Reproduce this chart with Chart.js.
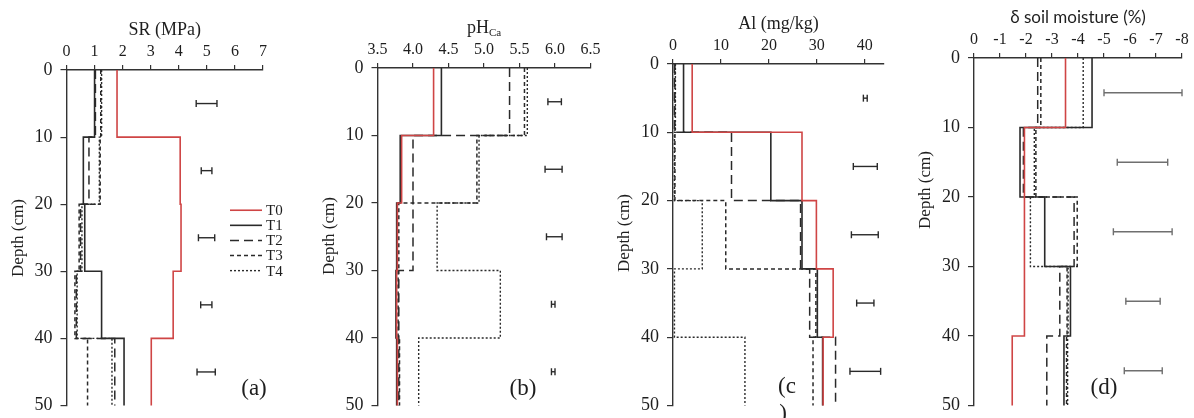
<!DOCTYPE html>
<html><head><meta charset="utf-8">
<script src="https://cdn.jsdelivr.net/npm/chart.js@4.4.1/dist/chart.umd.min.js"></script>
<style>
html,body{margin:0;padding:0;background:#fff;}
#wrap{position:relative;width:1194px;height:418px;overflow:hidden;background:#fff;}
#wrap canvas{position:absolute;left:0;top:0;}
</style></head><body>
<div id="wrap">
<canvas id="ca" width="1194" height="450"></canvas>
<canvas id="cb" width="1194" height="450"></canvas>
<canvas id="cc" width="1194" height="450"></canvas>
<canvas id="cd" width="1194" height="450"></canvas>
</div>
<script>
// ---------- data ----------
const layerTops = [0, 10, 20, 30, 40];
const layerBottoms = [10, 20, 30, 40, 50];
const depthTicks = [0, 10, 20, 30, 40, 50];
const seriesNames = ['T0', 'T1', 'T2', 'T3', 'T4'];
const errDepths = [5, 15, 25, 35, 45];

// (a) SR (MPa)
const srTicks = [0, 1, 2, 3, 4, 5, 6, 7];
const srT0 = [1.8, 4.05, 4.08, 3.8, 3.02];
const srT1 = [1.0, 0.6, 0.65, 1.25, 2.05];
const srT2 = [1.03, 0.8, 0.5, 0.35, 1.72];
const srT3 = [1.22, 1.2, 0.45, 0.3, 0.75];
const srT4 = [1.25, 1.17, 0.55, 0.38, 1.62];
const srErrLo = [4.62, 4.8, 4.7, 4.78, 4.65];
const srErrHi = [5.36, 5.18, 5.28, 5.18, 5.3];

// (b) pHCa
const phTicks = [3.5, 4.0, 4.5, 5.0, 5.5, 6.0, 6.5];
const phT0 = [4.29, 3.84, 3.78, 3.77, 3.78];
const phT1 = [4.40, 3.82, 3.77, 3.76, 3.77];
const phT2 = [5.36, 4.0, 4.0, 3.8, 3.8];
const phT3 = [5.57, 4.9, 3.8, 3.79, 3.81];
const phT4 = [5.61, 4.93, 4.34, 5.23, 4.08];
const phErrLo = [5.9, 5.86, 5.88, 5.95, 5.95];
const phErrHi = [6.09, 6.1, 6.1, 6.0, 6.0];

// (c) Al (mg/kg)
const alTicks = [0, 10, 20, 30, 40];
const alT0 = [4.0, 26.9, 29.9, 33.4, 31.3];
const alT1 = [2.2, 20.4, 26.9, 30.1, 31.2];
const alT2 = [0.3, 12.2, 26.6, 28.5, 33.9];
const alT3 = [0.4, 0.4, 11.0, 29.8, 29.2];
const alT4 = [0.5, 0.3, 6.1, 0.3, 15.0];
const alErrLo = [39.7, 37.6, 37.2, 38.3, 36.9];
const alErrHi = [40.5, 42.6, 42.8, 41.9, 43.3];

// (d) delta soil moisture (%)
const smTicks = [0, -1, -2, -3, -4, -5, -6, -7, -8];
const smT0 = [-3.52, -1.94, -1.94, -1.94, -1.47];
const smT1 = [-4.54, -1.77, -2.72, -3.71, -3.46];
const smT2 = [-2.45, -1.9, -3.85, -3.3, -2.8];
const smT3 = [-2.57, -2.38, -3.97, -3.58, -3.56];
const smT4 = [-4.2, -2.32, -2.17, -3.62, -3.6];
const smErrLo = [-5.0, -5.51, -5.36, -5.84, -5.78];
const smErrHi = [-8.0, -7.45, -7.62, -7.16, -7.24];

// ---------- styles ----------
const SERIF = '"Liberation Serif", "Times New Roman", serif';
const INK = '#1e1e1e';
const RED = '#cf4545';
const seriesStyle = [
  {color: RED, dash: [], width: 1.6},
  {color: '#2a2a2a', dash: [], width: 1.6},
  {color: '#2a2a2a', dash: [9, 5], width: 1.5},
  {color: '#2a2a2a', dash: [4, 3], width: 1.5},
  {color: '#2a2a2a', dash: [2, 2], width: 1.4}
];
const CANVAS_H = 450, PLOT_BOTTOM = 405.5, YAXIS_W = 66;

function stepPoints(vals) {
  const pts = [];
  vals.forEach((v, i) => { pts.push({x: v, y: layerTops[i]}); pts.push({x: v, y: layerBottoms[i]}); });
  return pts;
}

const decoPlugin = {
  id: 'deco',
  afterDraw(chart, args, o) {
    const ctx = chart.ctx, ca = chart.chartArea;
    ctx.save();
    ctx.fillStyle = INK;
    ctx.textBaseline = 'middle';
    const titleY = ca.top - 40;
    const cx = (ca.left + ca.right) / 2;
    if (o.sub) {
      ctx.font = '18px ' + SERIF;
      const w1 = ctx.measureText(o.title).width;
      ctx.font = '11px ' + SERIF;
      const w2 = ctx.measureText(o.sub).width;
      const x0 = cx - (w1 + w2) / 2;
      ctx.textAlign = 'left';
      ctx.font = '18px ' + SERIF;
      ctx.fillText(o.title, x0, titleY);
      ctx.font = '11px ' + SERIF;
      ctx.fillText(o.sub, x0 + w1, titleY + 5);
    } else {
      ctx.textAlign = 'center';
      ctx.font = o.titleFont || ('18px ' + SERIF);
      ctx.fillText(o.title, cx, titleY);
    }
    // depth title
    ctx.save();
    ctx.translate(ca.left - 48, o.depthY);
    ctx.rotate(-Math.PI / 2);
    ctx.textAlign = 'center';
    ctx.font = '17px ' + SERIF;
    ctx.fillText('Depth (cm)', 0, 0);
    ctx.restore();
    // panel label
    ctx.font = '23px ' + SERIF;
    ctx.textAlign = 'center';
    o.labels.forEach(l => ctx.fillText(l.t, l.x, l.y));
    // legend
    if (o.legend) {
      const L = o.legend;
      const ys = chart.scales.y;
      seriesNames.forEach((n, i) => {
        const y = ys.getPixelForValue(L.depth0 + i * L.step);
        const s = seriesStyle[i];
        ctx.beginPath();
        ctx.setLineDash(s.dash);
        ctx.strokeStyle = s.color;
        ctx.lineWidth = s.width;
        ctx.moveTo(L.x, y); ctx.lineTo(L.x + L.len, y);
        ctx.stroke();
        ctx.setLineDash([]);
        ctx.font = '15px ' + SERIF;
        ctx.textAlign = 'left';
        ctx.fillStyle = INK;
        ctx.fillText(n, L.x + L.len + 4, y + 1);
      });
    }
    ctx.restore();
  }
};

function makePanel(id, p) {
  const datasets = [];
  p.series.forEach((vals, i) => {
    const s = seriesStyle[i];
    datasets.push({
      data: stepPoints(vals), showLine: true, borderColor: s.color, borderWidth: s.width,
      borderDash: s.dash, pointRadius: 0, clip: false, fill: false, tension: 0
    });
  });
  errDepths.forEach((d, j) => {
    datasets.push({
      data: [{x: p.errLo[j], y: d}, {x: p.errHi[j], y: d}], showLine: true,
      borderColor: p.errColor, borderWidth: 1.4, pointStyle: 'line', pointRotation: 90,
      pointRadius: 3.5, pointBorderWidth: 1.4, pointBorderColor: p.errColor, clip: false
    });
  });
  return new Chart(document.getElementById(id), {
    type: 'scatter',
    data: {datasets},
    plugins: [decoPlugin],
    options: {
      responsive: false, animation: false, events: [],
      layout: {padding: {left: p.plotLeft - YAXIS_W, right: 1194 - p.plotRight, top: 0, bottom: CANVAS_H - PLOT_BOTTOM}},
      plugins: {legend: {display: false}, tooltip: {enabled: false}, deco: p.deco},
      scales: {
        x: {
          type: 'linear', position: 'top', min: p.min, max: p.max, reverse: !!p.reverse,
          afterBuildTicks: s => { s.ticks = p.ticks.map(v => ({value: v})); },
          afterFit: s => { s.height = p.plotTop; },
          ticks: {font: {family: SERIF, size: 16}, color: INK, padding: 4, maxRotation: 0, autoSkip: false,
                  callback: p.fmt || (v => String(v))},
          grid: {drawOnChartArea: false, tickLength: 5, color: '#333', lineWidth: 1.2},
          border: {display: true, color: '#333', width: 1.4}
        },
        y: {
          type: 'linear', position: 'left', min: 0, max: 50, reverse: true,
          afterBuildTicks: s => { s.ticks = depthTicks.map(v => ({value: v})); },
          afterFit: s => { s.width = YAXIS_W; },
          ticks: {font: {family: SERIF, size: 18}, color: INK, padding: 8},
          grid: {drawOnChartArea: false, tickLength: 6, color: '#333', lineWidth: 1.2},
          border: {display: true, color: '#333', width: 1.4}
        }
      }
    }
  });
}

makePanel('ca', {
  series: [srT0, srT1, srT2, srT3, srT4], min: 0, max: 7, ticks: srTicks, plotTop: 70,
  plotLeft: 66.5, plotRight: 263, errLo: srErrLo, errHi: srErrHi, errColor: '#2a2a2a',
  deco: {title: 'SR (MPa)', depthY: 238, labels: [{t: '(a)', x: 254, y: 389}],
         legend: {x: 230, len: 32, depth0: 20.9, step: 2.25}}
});
makePanel('cb', {
  series: [phT0, phT1, phT2, phT3, phT4], min: 3.5, max: 6.5, ticks: phTicks, fmt: v => v.toFixed(1), plotTop: 68,
  plotLeft: 377.5, plotRight: 590.5, errLo: phErrLo, errHi: phErrHi, errColor: '#2a2a2a',
  deco: {title: 'pH', sub: 'Ca', depthY: 236, labels: [{t: '(b)', x: 523, y: 389}]}
});
makePanel('cc', {
  series: [alT0, alT1, alT2, alT3, alT4], min: 0, max: 44, ticks: alTicks, plotTop: 64,
  plotLeft: 673, plotRight: 884, errLo: alErrLo, errHi: alErrHi, errColor: '#2a2a2a',
  deco: {title: 'Al (mg/kg)', depthY: 233, labels: [{t: '(c', x: 787, y: 387}, {t: ')', x: 783, y: 414}]}
});
makePanel('cd', {
  series: [smT0, smT1, smT2, smT3, smT4], min: -8, max: 0, reverse: true, ticks: smTicks, plotTop: 58,
  plotLeft: 974, plotRight: 1182, errLo: smErrLo, errHi: smErrHi, errColor: '#6f6f6f',
  deco: {title: 'δ soil moisture (%)', titleFont: '17px Lato, "Open Sans", sans-serif', depthY: 190,
         labels: [{t: '(d)', x: 1104, y: 388}]}
});
</script>
</body></html>
